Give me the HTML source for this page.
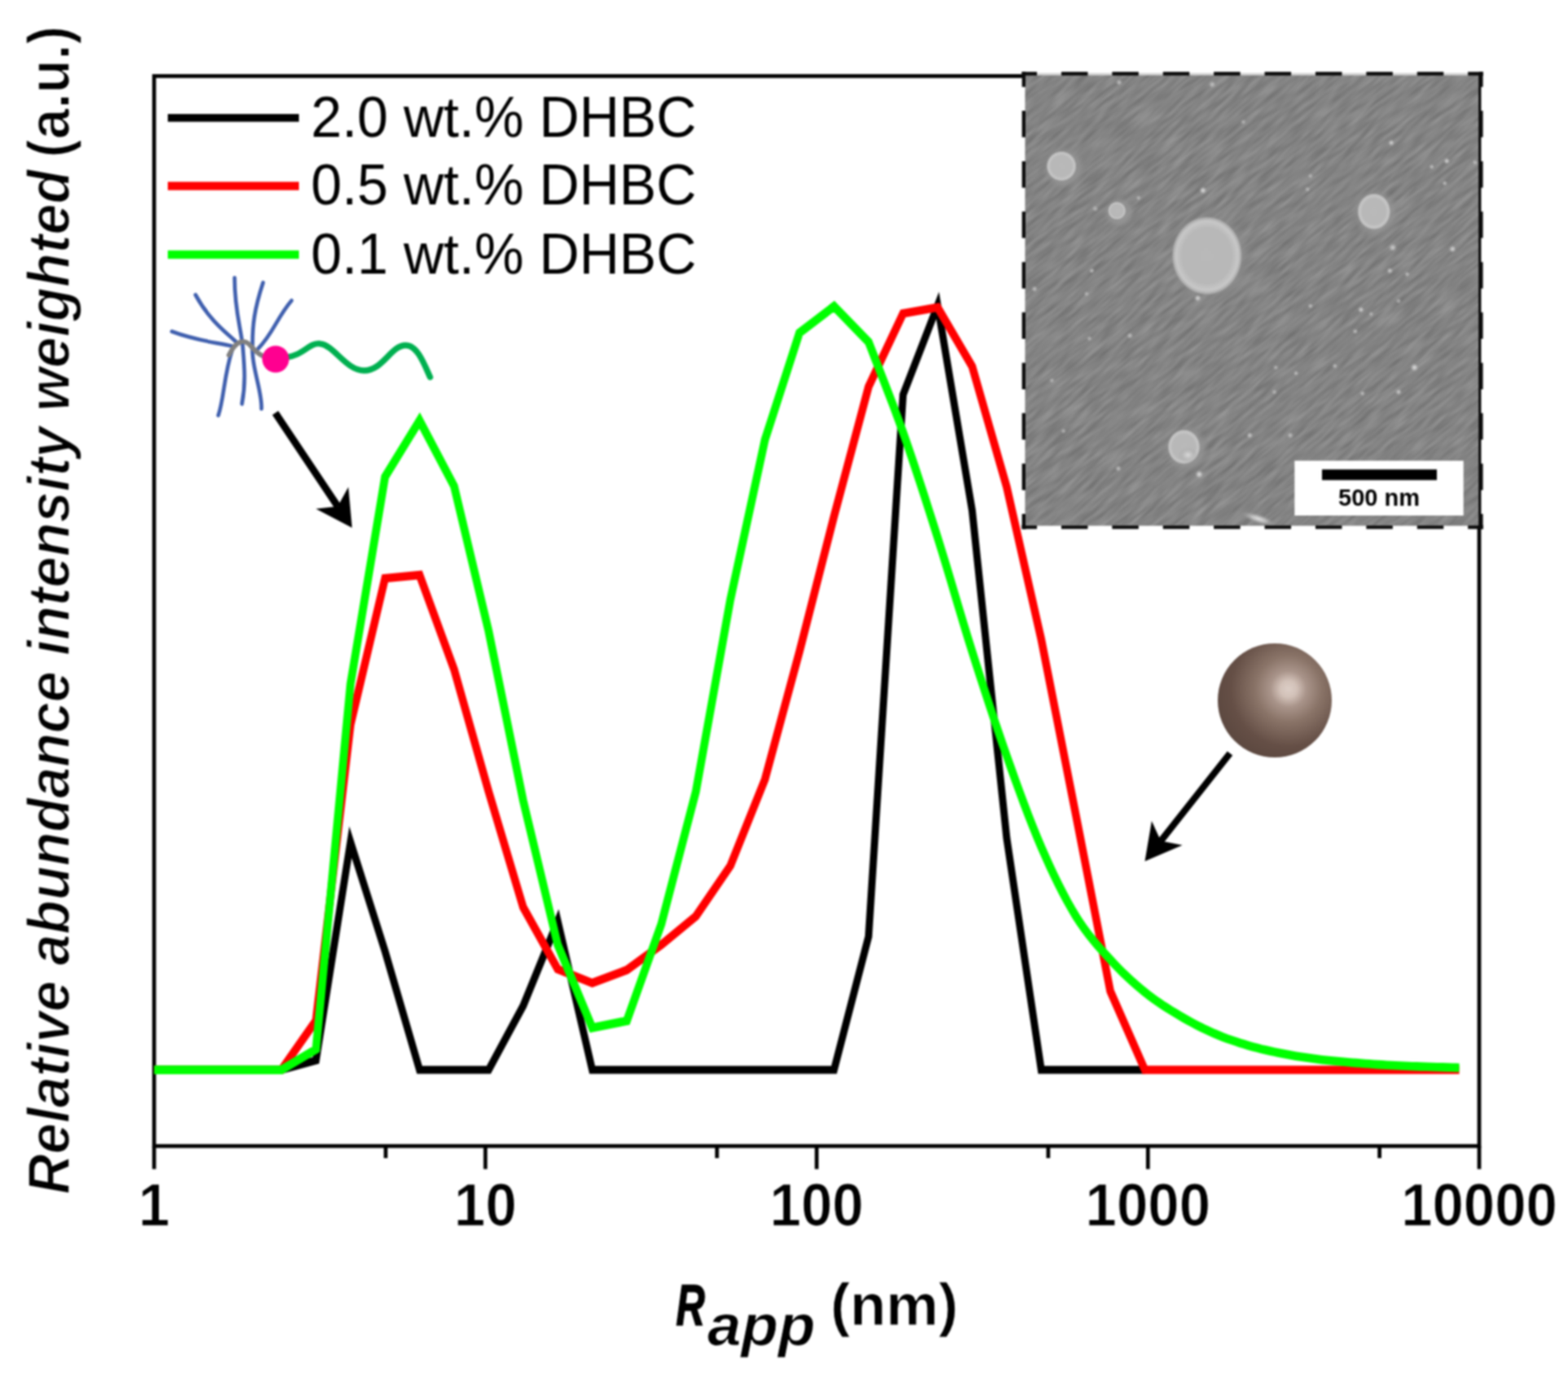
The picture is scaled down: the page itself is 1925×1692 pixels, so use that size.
<!DOCTYPE html>
<html lang="en"><head><meta charset="utf-8"><title>Relative abundance vs. apparent radius</title>
<style>
html,body{margin:0;padding:0;background:#fff;overflow:hidden;}
svg{display:block;filter:blur(0.9px);}
text{font-family:"Liberation Sans",Arial,sans-serif;fill:#000;}
.b{font-weight:bold;}
.bi{font-weight:bold;font-style:italic;}
.th{stroke:#fff;stroke-width:1px;}
.th2{stroke:#fff;stroke-width:1.6px;}
</style></head><body>
<svg width="1925" height="1692" viewBox="0 0 1925 1692">
<defs>
<radialGradient id="sph" cx="0.62" cy="0.40" r="0.72" fx="0.62" fy="0.40">
<stop offset="0" stop-color="#dccec6"/><stop offset="0.1" stop-color="#d2c1b8"/><stop offset="0.22" stop-color="#a9948a"/><stop offset="0.4" stop-color="#8a7468"/><stop offset="0.7" stop-color="#654f46"/><stop offset="1" stop-color="#58453d"/>
</radialGradient>
<radialGradient id="blob" cx="0.5" cy="0.5" r="0.5">
<stop offset="0" stop-color="#b9b9b9"/><stop offset="0.7" stop-color="#b8b8b8"/><stop offset="0.88" stop-color="#c8c8c8"/><stop offset="0.96" stop-color="#b4b4b4" stop-opacity="0.8"/><stop offset="1" stop-color="#909090" stop-opacity="0"/>
</radialGradient>
<radialGradient id="halo" cx="0.5" cy="0.5" r="0.5">
<stop offset="0" stop-color="#9a9a9a"/><stop offset="0.7" stop-color="#929292" stop-opacity="0.8"/><stop offset="1" stop-color="#888" stop-opacity="0"/>
</radialGradient>
<radialGradient id="dot" cx="0.5" cy="0.5" r="0.5">
<stop offset="0" stop-color="#e0e0e0"/><stop offset="0.4" stop-color="#c4c4c4" stop-opacity="0.9"/><stop offset="1" stop-color="#999" stop-opacity="0"/>
</radialGradient>
<filter id="tex" x="0" y="0" width="100%" height="100%" color-interpolation-filters="sRGB">
<feTurbulence type="fractalNoise" baseFrequency="0.03 0.2" numOctaves="2" seed="7"/>
<feColorMatrix type="matrix" values="0.9 0 0 0 0.06  0.9 0 0 0 0.06  0.9 0 0 0 0.06  0 0 0 0 1"/>
</filter>
<clipPath id="semclip"><rect x="1258.5" y="92.5" width="556.7" height="553"/></clipPath>
</defs>
<rect width="1925" height="1692" fill="#fff"/>

<rect x="189.2" y="93.4" width="1626.8" height="1313.8" fill="none" stroke="#000" stroke-width="4.7"/>
<line x1="189.2" y1="1407.2" x2="189.2" y2="1435.5" stroke="#000" stroke-width="4.7"/>
<line x1="473.5" y1="1407.2" x2="473.5" y2="1422" stroke="#000" stroke-width="4.7"/>
<line x1="595.9" y1="1407.2" x2="595.9" y2="1435.5" stroke="#000" stroke-width="4.7"/>
<line x1="880.2" y1="1407.2" x2="880.2" y2="1422" stroke="#000" stroke-width="4.7"/>
<line x1="1002.6" y1="1407.2" x2="1002.6" y2="1435.5" stroke="#000" stroke-width="4.7"/>
<line x1="1286.9" y1="1407.2" x2="1286.9" y2="1422" stroke="#000" stroke-width="4.7"/>
<line x1="1409.3" y1="1407.2" x2="1409.3" y2="1435.5" stroke="#000" stroke-width="4.7"/>
<line x1="1693.6" y1="1407.2" x2="1693.6" y2="1422" stroke="#000" stroke-width="4.7"/>
<line x1="1816.0" y1="1407.2" x2="1816.0" y2="1435.5" stroke="#000" stroke-width="4.7"/>
<text class="b th" transform="translate(189.2 1505.3) scale(0.985 1.05)" font-size="70" text-anchor="middle">1</text>
<text class="b th" transform="translate(595.9 1505.3) scale(0.985 1.05)" font-size="70" text-anchor="middle">10</text>
<text class="b th" transform="translate(1002.6 1505.3) scale(0.985 1.05)" font-size="70" text-anchor="middle">100</text>
<text class="b th" transform="translate(1409.3 1505.3) scale(0.985 1.05)" font-size="70" text-anchor="middle">1000</text>
<text class="b th" transform="translate(1816.0 1505.3) scale(0.985 1.05)" font-size="70" text-anchor="middle">10000</text>
<rect x="1257" y="88" width="558" height="6" fill="#fff"/>
<rect x="1257" y="89.6" width="558" height="3" fill="#d4d4d4"/>
<g id="sem" clip-path="url(#semclip)">
<rect x="1257" y="91" width="561" height="556" fill="#858585"/>
<g transform="rotate(-40 1537 369)"><rect x="1100" y="-60" width="880" height="860" filter="url(#tex)" opacity="0.22"/></g>
<ellipse cx="1306.1" cy="206" rx="27.5" ry="27.5" fill="url(#halo)"/>
<ellipse cx="1303.1" cy="204" rx="18.5" ry="18.5" fill="url(#blob)"/>
<ellipse cx="1374.2" cy="260.7" rx="20" ry="20" fill="url(#halo)"/>
<ellipse cx="1371.2" cy="258.7" rx="11" ry="11" fill="url(#blob)"/>
<ellipse cx="1484.8" cy="316" rx="52.5" ry="57.5" fill="url(#halo)"/>
<ellipse cx="1481.8" cy="314" rx="43.5" ry="48.5" fill="url(#blob)"/>
<ellipse cx="1689.8" cy="261.7" rx="29.5" ry="31.5" fill="url(#halo)"/>
<ellipse cx="1686.8" cy="259.7" rx="20.5" ry="22.5" fill="url(#blob)"/>
<ellipse cx="1456.5" cy="550.7" rx="29" ry="30.5" fill="url(#halo)"/>
<ellipse cx="1453.5" cy="548.7" rx="20" ry="21.5" fill="url(#blob)"/>
<ellipse cx="1458.5" cy="558.7" rx="12.0" ry="9.7" fill="url(#dot)" opacity="0.8"/>
<circle cx="1476.9" cy="233.8" r="5.0" fill="url(#dot)" opacity="1"/>
<circle cx="1708.1" cy="175.3" r="4.4" fill="url(#dot)" opacity="0.9"/>
<circle cx="1776.2" cy="197.7" r="4.4" fill="url(#dot)" opacity="0.9"/>
<circle cx="1757.7" cy="204.8" r="3.8" fill="url(#dot)" opacity="0.7"/>
<circle cx="1773.7" cy="225.0" r="3.8" fill="url(#dot)" opacity="0.7"/>
<circle cx="1605.2" cy="232.4" r="3.8" fill="url(#dot)" opacity="0.6"/>
<circle cx="1783.3" cy="305.8" r="5.0" fill="url(#dot)" opacity="0.9"/>
<circle cx="1709.9" cy="304.0" r="5.6" fill="url(#dot)" opacity="0.8"/>
<circle cx="1706.3" cy="332.4" r="4.4" fill="url(#dot)" opacity="0.8"/>
<circle cx="1727.6" cy="336.7" r="3.8" fill="url(#dot)" opacity="0.7"/>
<circle cx="1340.4" cy="332.4" r="3.8" fill="url(#dot)" opacity="0.7"/>
<circle cx="1270.1" cy="354.8" r="4.4" fill="url(#dot)" opacity="0.7"/>
<circle cx="1334.0" cy="360.8" r="3.8" fill="url(#dot)" opacity="0.6"/>
<circle cx="1608.8" cy="375.7" r="3.8" fill="url(#dot)" opacity="0.7"/>
<circle cx="1670.9" cy="380.3" r="4.4" fill="url(#dot)" opacity="0.9"/>
<circle cx="1683.3" cy="385.6" r="3.8" fill="url(#dot)" opacity="0.6"/>
<circle cx="1717.0" cy="369.6" r="3.8" fill="url(#dot)" opacity="0.6"/>
<circle cx="1387.2" cy="412.2" r="4.4" fill="url(#dot)" opacity="0.7"/>
<circle cx="1337.5" cy="415.7" r="3.8" fill="url(#dot)" opacity="0.6"/>
<circle cx="1663.8" cy="406.9" r="3.8" fill="url(#dot)" opacity="0.7"/>
<circle cx="1736.5" cy="451.2" r="5.6" fill="url(#dot)" opacity="1"/>
<circle cx="1638.9" cy="449.4" r="3.8" fill="url(#dot)" opacity="0.7"/>
<circle cx="1591.1" cy="458.3" r="3.8" fill="url(#dot)" opacity="0.7"/>
<circle cx="1566.2" cy="451.2" r="3.8" fill="url(#dot)" opacity="0.6"/>
<circle cx="1717.0" cy="481.3" r="4.4" fill="url(#dot)" opacity="0.8"/>
<circle cx="1672.6" cy="483.1" r="3.8" fill="url(#dot)" opacity="0.7"/>
<circle cx="1564.5" cy="481.3" r="3.8" fill="url(#dot)" opacity="0.6"/>
<circle cx="1534.3" cy="534.5" r="4.4" fill="url(#dot)" opacity="0.8"/>
<circle cx="1584.0" cy="534.5" r="4.4" fill="url(#dot)" opacity="0.7"/>
<circle cx="1373.0" cy="575.3" r="4.4" fill="url(#dot)" opacity="0.7"/>
<circle cx="1472.3" cy="582.4" r="5.6" fill="url(#dot)" opacity="1"/>
<circle cx="1470.5" cy="366.1" r="5.0" fill="url(#dot)" opacity="0.9"/>
<circle cx="1291.4" cy="467.2" r="3.8" fill="url(#dot)" opacity="0.6"/>
<circle cx="1305.6" cy="529.2" r="3.8" fill="url(#dot)" opacity="0.6"/>
<circle cx="1374.0" cy="101.2" r="4.4" fill="url(#dot)" opacity="0.7"/>
<circle cx="1526.5" cy="149.8" r="3.8" fill="url(#dot)" opacity="0.6"/>
<circle cx="1810.9" cy="199.4" r="3.8" fill="url(#dot)" opacity="0.7"/>
<circle cx="1608.8" cy="216.1" r="3.8" fill="url(#dot)" opacity="0.6"/>
<circle cx="1397.8" cy="243.0" r="3.8" fill="url(#dot)" opacity="0.6"/>
<circle cx="1344.6" cy="256.2" r="4.4" fill="url(#dot)" opacity="0.6"/>
<circle cx="1488.2" cy="103.7" r="5.0" fill="url(#dot)" opacity="0.7"/>
<ellipse cx="1545" cy="637" rx="22" ry="6" transform="rotate(18 1545 637)" fill="url(#dot)"/>
</g>
<rect x="1589.3" y="565.7" width="207.4" height="67.3" fill="#fff"/>
<rect x="1623" y="576.4" width="141" height="13.1" fill="#000"/>
<text class="b" transform="translate(1693 621.4) scale(1 1.03)" font-size="29" text-anchor="middle">500 nm</text>
<line x1="1256.8" y1="90.5" x2="1818.4" y2="90.5" stroke="#0a0a0a" stroke-width="4.3" stroke-dasharray="32.5 29.90" stroke-dashoffset="16.25"/>
<line x1="1256.8" y1="647.3" x2="1818.4" y2="647.3" stroke="#0a0a0a" stroke-width="4.3" stroke-dasharray="32.5 29.90" stroke-dashoffset="16.25"/>
<line x1="1256.8" y1="90.5" x2="1256.8" y2="647.3" stroke="#0a0a0a" stroke-width="4.3" stroke-dasharray="32.5 29.37" stroke-dashoffset="16.25"/>
<line x1="1818.4" y1="90.5" x2="1818.4" y2="647.3" stroke="#0a0a0a" stroke-width="4.3" stroke-dasharray="32.5 29.37" stroke-dashoffset="16.25"/>
<rect x="1254.3" y="88.0" width="5" height="5" fill="#0a0a0a"/><rect x="1815.9" y="88.0" width="5" height="5" fill="#0a0a0a"/><rect x="1254.3" y="644.8" width="5" height="5" fill="#0a0a0a"/><rect x="1815.9" y="644.8" width="5" height="5" fill="#0a0a0a"/>
<g transform="scale(1 1.08)" fill="none" stroke-linejoin="miter" stroke-miterlimit="10">
<polyline points="189.2,1216.30 345.5,1216.30 387.9,1205.56 430.3,957.41 472.7,1081.48 515.1,1216.30 557.5,1216.30 599.9,1216.30 642.3,1143.52 684.7,1047.22 727.1,1216.30 1023.9,1216.30 1066.3,1064.81 1108.7,448.70 1151.1,347.22 1193.5,580.56 1235.9,952.78 1278.3,1216.30 1405.5,1216.30" stroke="#000" stroke-width="8.9"/>
<polyline points="189.2,1216.30 345.5,1216.30 387.9,1160.19 430.3,824.07 472.7,657.41 515.1,653.70 557.5,761.11 599.9,900.00 642.3,1031.48 684.7,1101.85 727.1,1117.59 769.5,1102.78 811.9,1074.07 854.3,1041.67 896.7,984.26 939.1,886.11 981.5,740.74 1023.9,587.04 1066.3,439.81 1108.7,356.48 1151.1,349.44 1193.5,416.67 1235.9,553.70 1278.3,726.85 1320.7,925.93 1363.1,1126.85 1405.5,1216.30 1791.5,1216.30" stroke="#f00" stroke-width="9.6"/>
<polyline points="189.2,1216.30 345.5,1216.30 387.9,1193.06 430.3,777.78 472.7,542.22 515.1,478.06 557.5,552.78 599.9,717.59 642.3,910.19 684.7,1074.07 727.1,1168.52 769.5,1160.65 811.9,1050.65 854.3,900.00 896.7,681.48 939.1,500.00 981.5,378.33 1023.9,348.33 1066.3,388.70 1069.6,396.57 1073.9,406.85 1079.1,419.07 1084.8,432.69 1090.9,447.31 1097.1,462.31 1103.1,477.31 1108.7,491.67 1114.0,505.74 1119.3,520.09 1124.6,534.81 1129.9,549.72 1135.2,564.81 1140.5,580.19 1145.8,595.56 1151.1,611.11 1156.4,626.94 1161.7,643.06 1167.0,659.44 1172.3,676.02 1177.6,692.50 1182.9,708.89 1188.2,725.00 1193.5,740.74 1198.8,756.20 1204.1,771.48 1209.4,786.67 1214.7,801.67 1220.0,816.39 1225.3,830.93 1230.6,845.19 1235.9,859.26 1241.2,873.15 1246.5,886.85 1251.8,900.37 1257.1,913.61 1262.4,926.57 1267.7,939.17 1273.0,951.30 1278.3,962.96 1283.6,974.17 1288.9,985.00 1294.2,995.46 1299.5,1005.56 1304.8,1015.19 1310.1,1024.44 1315.4,1033.15 1320.7,1041.39 1326.0,1049.07 1331.3,1056.11 1336.6,1062.69 1341.9,1068.80 1347.2,1074.63 1352.5,1080.19 1357.8,1085.65 1363.1,1091.02 1368.4,1096.30 1373.7,1101.39 1379.0,1106.30 1384.3,1110.93 1389.6,1115.46 1394.9,1119.72 1400.2,1123.89 1405.5,1127.96 1410.8,1131.85 1416.1,1135.46 1421.4,1138.98 1426.7,1142.31 1432.0,1145.46 1437.3,1148.61 1442.6,1151.57 1447.9,1154.54 1453.2,1157.41 1458.5,1160.19 1463.8,1162.87 1469.1,1165.46 1474.4,1167.96 1479.7,1170.37 1485.0,1172.59 1490.3,1174.81 1495.6,1176.85 1500.9,1178.89 1506.2,1180.74 1511.5,1182.41 1516.8,1184.07 1522.1,1185.74 1527.4,1187.22 1532.7,1188.70 1538.0,1190.09 1543.3,1191.39 1548.6,1192.69 1553.9,1193.80 1559.2,1194.91 1564.5,1195.93 1569.8,1196.94 1575.1,1197.96 1580.4,1198.89 1585.7,1199.81 1591.0,1200.65 1596.3,1201.39 1601.6,1202.13 1606.9,1202.87 1612.2,1203.52 1617.5,1204.17 1622.8,1204.81 1628.1,1205.37 1633.4,1205.83 1638.7,1206.30 1644.0,1206.76 1649.3,1207.22 1654.6,1207.59 1659.9,1208.06 1665.2,1208.43 1670.5,1208.89 1675.8,1209.26 1681.1,1209.54 1686.4,1209.91 1691.7,1210.28 1697.0,1210.56 1702.3,1210.83 1707.6,1211.11 1712.8,1211.39 1718.0,1211.57 1723.2,1211.85 1728.5,1212.04 1733.8,1212.22 1739.2,1212.41 1744.7,1212.59 1750.7,1212.78 1757.2,1212.96 1764.0,1213.15 1770.8,1213.33 1777.2,1213.52 1783.0,1213.70 1787.9,1213.80 1791.5,1213.89" stroke="#0f0" stroke-width="9.8"/>
</g>
<line x1="206" y1="144.7" x2="367" y2="144.7" stroke="#000" stroke-width="9.6"/>
<text transform="translate(381.8 167.7) scale(1.002 1.025)" font-size="68">2.0 wt.% DHBC</text>
<line x1="206" y1="228.4" x2="367" y2="228.4" stroke="#f00" stroke-width="10.2"/>
<text transform="translate(381.8 251.4) scale(1.002 1.025)" font-size="68">0.5 wt.% DHBC</text>
<line x1="206" y1="312.6" x2="367" y2="312.6" stroke="#0f0" stroke-width="10.2"/>
<text transform="translate(381.8 335.6) scale(1.002 1.025)" font-size="68">0.1 wt.% DHBC</text>
<text class="bi" transform="translate(830 1627) scale(0.7 1)" font-size="70" stroke="#000" stroke-width="1.6">R</text>
<text class="bi th" transform="translate(868.5 1652) scale(1.02 1)" font-size="73">app</text>
<text class="b th" transform="translate(1019.5 1627) scale(1.02 1.01)" font-size="71">(nm)</text>
<text class="bi th2" transform="translate(85.4 1466.5) rotate(-90)" font-size="72.5" textLength="1258" lengthAdjust="spacingAndGlyphs">Relative abundance intensity weighted</text>
<text class="b th2" transform="translate(85.4 193.4) rotate(-90)" font-size="72.5" textLength="161.5" lengthAdjust="spacingAndGlyphs">(a.u.)</text>
<path d="M211,407 C240,418 262,420 285,425" fill="none" stroke="#3f5fae" stroke-width="4.7" stroke-linecap="round"/>
<path d="M240,362 C258,395 280,410 290,420" fill="none" stroke="#3f5fae" stroke-width="4.7" stroke-linecap="round"/>
<path d="M288,341 C288,380 295,400 298,425 C300,450 302,470 297,496" fill="none" stroke="#3f5fae" stroke-width="4.7" stroke-linecap="round"/>
<path d="M323,347 C312,380 310,400 310,422 C308,450 322,480 321,502" fill="none" stroke="#3f5fae" stroke-width="4.7" stroke-linecap="round"/>
<path d="M358,369 C340,390 335,410 317,428" fill="none" stroke="#3f5fae" stroke-width="4.7" stroke-linecap="round"/>
<path d="M285,430 C275,460 275,490 268,510" fill="none" stroke="#3f5fae" stroke-width="4.7" stroke-linecap="round"/>
<path d="M281,436 C290,418 300,415 308,425 C315,433 322,438 328,439" fill="none" stroke="#808080" stroke-width="5.8" stroke-linecap="round"/>
<path d="M350,439 C372,437 380,420 393,422 C410,424 425,455 447,455 C470,455 480,424 498,424 C512,424 520,445 528,463" fill="none" stroke="#00b050" stroke-width="7.4" stroke-linecap="round"/>
<circle cx="338.4" cy="441" r="16.5" fill="#ff0090"/>
<line x1="338.0" y1="507.0" x2="414.6" y2="621.7" stroke="#000" stroke-width="8.8"/>
<path d="M432.2,648.0 L387.8,624.7 L414.6,621.7 L427.7,598.1 Z" fill="#000"/>
<line x1="1510.0" y1="925.0" x2="1425.1" y2="1032.6" stroke="#000" stroke-width="8.2"/>
<path d="M1405.5,1057.5 L1413.9,1008.1 L1425.1,1032.6 L1451.6,1037.8 Z" fill="#000"/>
<circle cx="1565" cy="860" r="70" fill="url(#sph)"/>
</svg></body></html>
